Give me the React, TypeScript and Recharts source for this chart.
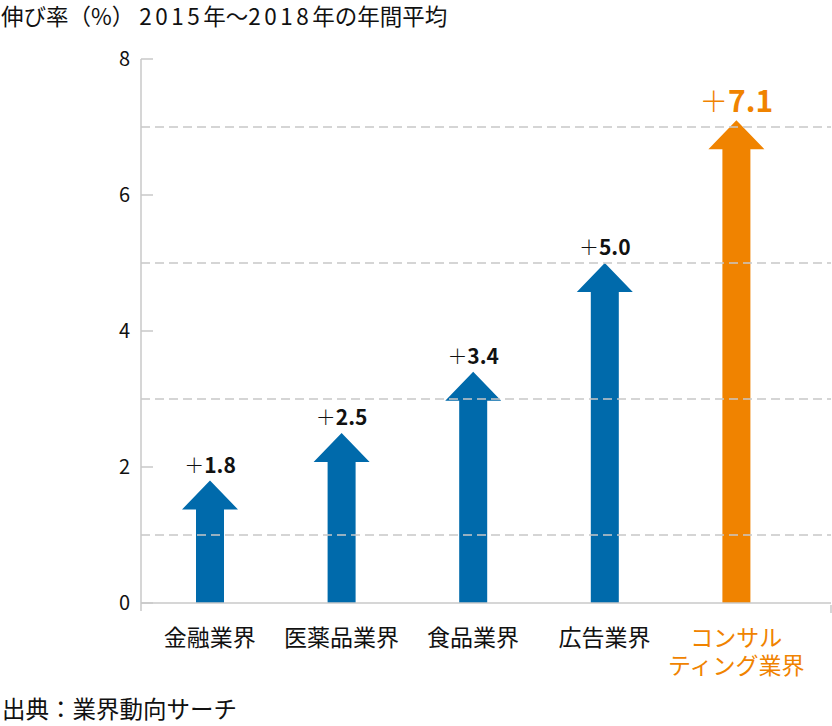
import React from 'react';
import { BarChart, Bar, XAxis, YAxis, ReferenceLine, LabelList, Cell } from 'recharts';

// data
const categories = ['金融業界', '医薬品業界', '食品業界', '広告業界', 'コンサル\nティング業界'];
const growth = [1.8, 2.5, 3.4, 5.0, 7.1];
const yTicks = [0, 2, 4, 6, 8];
const gridValues = [1, 3, 5, 7];
const highlighted = 'コンサル\nティング業界';

const titleParts = ['伸び率（%） ', '2015', '年～', '2018', '年の年間平均'];
const source = '出典：業界動向サーチ';

const BLUE = '#006aab';
const ORANGE = '#f08300';
const AXIS = '#c8c8c8';
const FONT = '"Noto Sans CJK JP", "Noto Sans", sans-serif';

const W = 832;
const H = 726;
const X_AXIS_H = 30;
const margin = { top: 59, right: 1, bottom: 123 - X_AXIS_H, left: 0 };
const plotRight = W - margin.right;

const data = categories.map((name, i) => ({ name, value: growth[i] }));

// arrow shaped bar: shaft + triangular head, tip at the value
const Arrow = (props: any) => {
  const { x, y, width, height, fill } = props;
  const cx = x + width / 2;
  const head = 29;
  const shaft = width / 4;
  const bottom = y + height;
  const d = `M${cx},${y} L${x + width},${y + head} L${cx + shaft},${y + head} L${cx + shaft},${bottom} L${cx - shaft},${bottom} L${cx - shaft},${y + head} L${x},${y + head} Z`;
  return <path d={d} fill={fill} />;
};

const ValueLabel = (props: any) => {
  const { x, y, width, value, index } = props;
  const hot = categories[index] === highlighted;
  const size = hot ? 30 : 21;
  return (
    <text x={x + width / 2} y={y - 8} textAnchor="middle" fontFamily={FONT} fill={hot ? ORANGE : '#111'}>
      <tspan fontWeight={300} fontSize={size * 0.95}>＋</tspan>
      <tspan fontWeight={700} fontSize={size}>{Number(value).toFixed(1)}</tspan>
    </text>
  );
};

const YTick = (props: any) => {
  const { x, y, payload } = props;
  const axisX = x + 11;
  return (
    <g>
      <text x={x} y={y} dy="0.35em" textAnchor="end" fontFamily={FONT} fontSize={20} fill="#111">
        {payload.value}
      </text>
      <line x1={axisX} x2={axisX + 12} y1={y} y2={y} stroke={AXIS} strokeWidth={1.5} />
      {payload.value === 0 && <line x1={axisX} x2={axisX} y1={y} y2={y + 8} stroke={AXIS} strokeWidth={1.5} />}
    </g>
  );
};

const XTick = (props: any) => {
  const { x, y, payload, index } = props;
  const lines = String(payload.value).split('\n');
  const hot = payload.value === highlighted;
  return (
    <g>
      {lines.map((l, i) => (
        <text
          key={i}
          x={x}
          y={y + 41 + i * 28}
          textAnchor="middle"
          fontFamily={FONT}
          fontSize={23}
          fill={hot ? ORANGE : '#111'}
        >
          {l}
        </text>
      ))}
      {index === categories.length - 1 && (
        <line x1={plotRight} x2={plotRight} y1={y} y2={y + 8} stroke={AXIS} strokeWidth={1.5} />
      )}
    </g>
  );
};

export default function App() {
  return (
    <div style={{ position: 'absolute', left: 0, top: 0, width: W, height: H, background: '#fff', fontFamily: FONT }}>
      <div style={{ position: 'absolute', left: 1, top: 3, fontSize: 22.5, lineHeight: '24px', color: '#111', whiteSpace: 'pre' }}>
        {titleParts.map((p, i) => (
          <span key={i} style={/\d/.test(p) ? { letterSpacing: 3.5 } : undefined}>{p}</span>
        ))}
      </div>
      <BarChart width={W} height={H} data={data} margin={margin}>
        {gridValues.map(v => (
          <ReferenceLine key={v} y={v} stroke={AXIS} strokeDasharray="9 5" strokeWidth={1.5} />
        ))}
        <XAxis
          dataKey="name"
          height={X_AXIS_H}
          axisLine={{ stroke: AXIS, strokeWidth: 1.5 }}
          tickLine={false}
          tickSize={0}
          tick={<XTick />}
          interval={0}
          padding={{ left: 3, right: 29 }}
        />
        <YAxis
          width={141}
          domain={[0, 8]}
          ticks={yTicks}
          axisLine={{ stroke: AXIS, strokeWidth: 1.5 }}
          tickLine={false}
          tickSize={0}
          tickMargin={11}
          tick={<YTick />}
          interval={0}
        />
        <Bar dataKey="value" barSize={56} shape={<Arrow />} isAnimationActive={false}>
          {data.map(d => (
            <Cell key={d.name} fill={d.name === highlighted ? ORANGE : BLUE} />
          ))}
          <LabelList dataKey="value" content={<ValueLabel />} />
        </Bar>
      </BarChart>
      <div style={{ position: 'absolute', left: 2, top: 695, fontSize: 23.5, lineHeight: '26px', color: '#111', whiteSpace: 'pre' }}>
        {source}
      </div>
    </div>
  );
}
